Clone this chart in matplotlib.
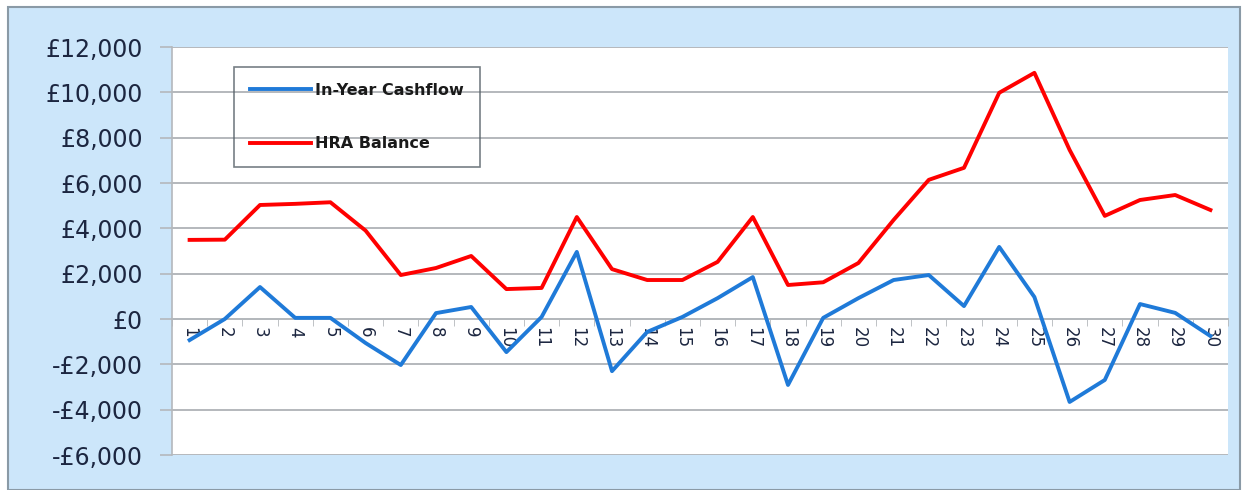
import matplotlib.pyplot as plt
from matplotlib.patches import Rectangle
from matplotlib.ticker import FuncFormatter, MultipleLocator

years = list(range(1, 31))
cashflow = [-930, 0, 1410, 50, 50, -1060, -2030, 260, 530, -1460,
            90, 2960, -2300, -570, 90, 920, 1850, -2910, 50, 920,
            1720, 1940, 570, 3180, 970, -3660, -2690, 660, 270, -750]
balance = [3490, 3500, 5030, 5080, 5150, 3900, 1940, 2250, 2780, 1320,
           1370, 4500, 2200, 1720, 1720, 2520, 4500, 1500, 1620, 2470,
           4370, 6140, 6670, 9980, 10860, 7460, 4550, 5250, 5470, 4810]

bg = '#cce6fa'
txt = '#1c2640'
grid = '#b4b8bc'

fig = plt.figure(figsize=(12.42, 4.9), dpi=100)
fig.patch.set_facecolor('white')
fig.patches.append(Rectangle((8 / 1242, 0), 1232 / 1242, 1 - 7 / 490,
                             transform=fig.transFigure, facecolor=bg,
                             edgecolor='#8a9aa6', linewidth=1.5, zorder=-10))

ax = fig.add_axes([172 / 1242, 1 - 455 / 490, 1056 / 1242, 408 / 490])
ax.set_facecolor('white')

ax.plot(years, cashflow, color='#1f7ad8', linewidth=2.8, label='In-Year Cashflow', zorder=3)
ax.plot(years, balance, color='#ff0000', linewidth=2.8, label='HRA Balance', zorder=3)

ax.set_xlim(0.5, 30.5)
ax.set_ylim(-6000, 12000)
ax.yaxis.set_major_locator(MultipleLocator(2000))
ax.yaxis.set_major_formatter(FuncFormatter(
    lambda v, p: ('-£{:,.0f}' if v < 0 else '£{:,.0f}').format(abs(v))))
ax.grid(axis='y', color=grid, linewidth=1.4, zorder=1)

for s in ['top', 'right']:
    ax.spines[s].set_visible(False)
ax.spines['left'].set_color(grid)
ax.spines['left'].set_linewidth(1.2)
ax.spines['bottom'].set_position(('data', 0))
ax.spines['bottom'].set_color(grid)
ax.spines['bottom'].set_linewidth(1.4)

ax.set_xticks(years)
ax.set_xticklabels([str(y) for y in years], rotation=270, fontsize=12, color=txt)
ax.set_xticks([y + 0.5 for y in range(0, 31)], minor=True)
ax.tick_params(axis='x', which='major', length=0, pad=6)
ax.tick_params(axis='x', which='minor', length=5, color=grid, direction='out')
ax.tick_params(axis='y', length=9, color=grid, width=1.2, labelsize=17,
               labelcolor=txt, pad=12)

leg = ax.legend(loc='upper left', bbox_to_anchor=(0.0587, 0.951), borderaxespad=0,
                frameon=True, fancybox=False, facecolor='none', edgecolor='#555f66',
                handlelength=3.8, handletextpad=0.3, labelspacing=2.4, borderpad=1.0,
                prop={'size': 11.5, 'weight': 'bold'})
leg.get_frame().set_linewidth(1.2)
for t in leg.get_texts():
    t.set_color('#1a1a1a')

plt.savefig('out.png', dpi=100)
